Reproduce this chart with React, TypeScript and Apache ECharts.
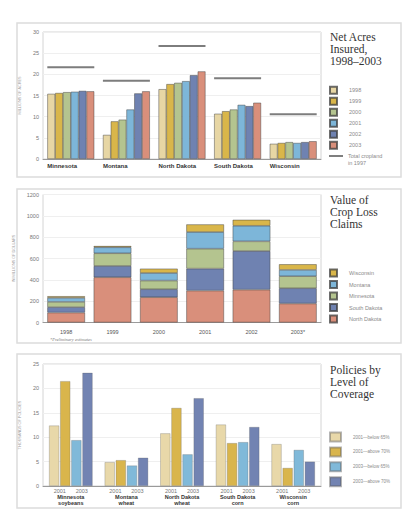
import React, { useEffect, useRef } from "react";
import * as echarts from "echarts";

// ---------- Panel 1: Net Acres Insured ----------
const acresStates = ["Minnesota", "Montana", "North Dakota", "South Dakota", "Wisconsin"];
const acresYears = ["1998", "1999", "2000", "2001", "2002", "2003"];
const acres1998 = [15.4, 5.7, 16.5, 10.7, 3.6];
const acres1999 = [15.6, 8.9, 17.7, 11.3, 3.8];
const acres2000 = [15.8, 9.3, 18.0, 11.7, 4.0];
const acres2001 = [15.9, 11.7, 18.4, 12.8, 3.8];
const acres2002 = [16.1, 15.5, 19.8, 12.5, 4.0];
const acres2003 = [16.0, 16.0, 20.7, 13.3, 4.2];
const cropland1997 = [21.7, 18.5, 26.7, 19.1, 10.6];
const acresTicks = [0, 30, 5];

// ---------- Panel 2: Value of Crop Loss Claims ----------
const claimYears = ["1998", "1999", "2000", "2001", "2002", "2003*"];
const claimStates = ["North Dakota", "South Dakota", "Minnesota", "Montana", "Wisconsin"];
const claimsND = [93, 424, 237, 299, 308, 178];
const claimsSD = [51, 106, 75, 206, 362, 143];
const claimsMN = [49, 119, 81, 187, 91, 113];
const claimsMT = [38, 56, 71, 156, 146, 59];
const claimsWI = [16, 12, 41, 72, 56, 53];
const claimTicks = [0, 1200, 200];

// ---------- Panel 3: Policies by Level of Coverage ----------
const policyStates = ["Minnesota", "Montana", "North Dakota", "South Dakota", "Wisconsin"];
const policyCrops = ["soybeans", "wheat", "wheat", "corn", "corn"];
const policyGroups = ["2001—below 65%", "2001—above 70%", "2003—below 65%", "2003—above 70%"];
const below65in2001 = [12.4, 4.9, 10.8, 12.6, 8.6];
const above70in2001 = [21.5, 5.3, 16.0, 8.8, 3.7];
const below65in2003 = [9.4, 4.2, 6.5, 9.0, 7.4];
const above70in2003 = [23.2, 5.8, 18.0, 12.1, 5.0];
const policyTicks = [0, 25, 5];

const C_TAN = "#e7d6a4";
const C_GOLD = "#d9b64a";
const C_SAGE = "#b4c48f";
const C_BLUE = "#7db6d9";
const C_SLATE = "#6f82b1";
const C_SALMON = "#d98f7b";

const SANS = "Liberation Sans";
const SERIF = "Liberation Serif";

export default function App() {
  const ref = useRef<HTMLDivElement>(null);

  useEffect(() => {
    if (!ref.current) return;
    const chart = echarts.init(ref.current, null, { renderer: "svg" });

    const grids = [
      { left: 43, top: 32, width: 278, height: 127 },
      { left: 43, top: 194.5, width: 278, height: 128 },
      { left: 43, top: 364, width: 278, height: 122 },
    ].map((g) => ({ ...g, show: true, borderColor: "#d4d4d4", borderWidth: 1, backgroundColor: "#fff" }));

    const yBase = (ticks: number[], name: string, gap: number, idx: number) => ({
      type: "value",
      gridIndex: idx,
      min: ticks[0],
      max: ticks[1],
      interval: ticks[2],
      name,
      nameLocation: "middle",
      nameGap: gap,
      nameRotate: 90,
      nameTextStyle: { fontSize: 3.8, color: "#a0a0a0", fontFamily: SANS },
      axisLine: { show: false },
      axisTick: { show: false },
      axisLabel: {
        fontSize: 5.5,
        color: "#777",
        margin: 4,
        fontFamily: SANS,
        formatter: (v: number) => String(v),
      },
      splitLine: { lineStyle: { color: "#efefef", width: 1 } },
    });

    const barBorder = { borderColor: "rgba(60,60,60,0.75)", borderWidth: 0.6 };
    const acresColors = [C_TAN, C_GOLD, C_SAGE, C_BLUE, C_SLATE, C_SALMON];
    const acresData = [acres1998, acres1999, acres2000, acres2001, acres2002, acres2003];

    const claimColors = [C_SALMON, C_SLATE, C_SAGE, C_BLUE, C_GOLD];
    const claimData = [claimsND, claimsSD, claimsMN, claimsMT, claimsWI];

    const policyColors = ["#e8d8a9", "#d9b54c", "#80b9d9", "#7283b2"];
    const policyData = [below65in2001, above70in2001, below65in2003, above70in2003];

    const series: any[] = [];
    acresYears.forEach((y, i) => {
      series.push({
        type: "bar",
        name: y,
        xAxisIndex: 0,
        yAxisIndex: 0,
        data: acresData[i],
        barGap: "0%",
        barCategoryGap: "15.5%",
        itemStyle: { color: acresColors[i], ...barBorder },
      });
    });
    series.push({
      type: "custom",
      name: "Total cropland in 1997",
      xAxisIndex: 0,
      yAxisIndex: 0,
      z: 5,
      data: cropland1997.map((v, i) => [i, v]),
      encode: { x: 0, y: 1 },
      renderItem: (params: any, api: any) => {
        const p = api.coord([api.value(0), api.value(1)]);
        const w = api.size([1, 0])[0] * 0.845;
        return {
          type: "line",
          shape: { x1: p[0] - w / 2, y1: p[1], x2: p[0] + w / 2, y2: p[1] },
          style: { stroke: "#7d7d7d", lineWidth: 2 },
        };
      },
    });
    claimStates.forEach((s, i) => {
      series.push({
        type: "bar",
        name: s,
        stack: "claims",
        xAxisIndex: 1,
        yAxisIndex: 1,
        data: claimData[i],
        barCategoryGap: "18.6%",
        itemStyle: { color: claimColors[i], ...barBorder },
      });
    });
    policyGroups.forEach((g, i) => {
      series.push({
        type: "bar",
        name: g,
        xAxisIndex: 2,
        yAxisIndex: 2,
        data: policyData[i],
        barGap: "9%",
        barCategoryGap: "21.6%",
        itemStyle: { color: policyColors[i], borderColor: "rgba(90,90,90,0.45)", borderWidth: 0.6 },
      });
    });

    const legendBase = {
      orient: "vertical",
      left: 329,
      padding: 0,
      icon: "rect",
      selectedMode: false,
      textStyle: { fontSize: 5.5, lineHeight: 7, color: "#8a8a8a", fontFamily: SANS, padding: [0, 0, 0, 7] },
    };

    const titleLines = (x: number, y: number, lines: string[]) =>
      lines.map((t, i) => ({
        type: "text",
        x,
        y: y + i * 12,
        style: { text: t, font: `11.5px "${SERIF}"`, fill: "#333", textVerticalAlign: "top" },
      }));

    const panelBox = (y: number) => ({
      type: "rect",
      shape: { x: 17, y, width: 384, height: 154 },
      style: { fill: "none", stroke: "#dcdcdc", lineWidth: 1.5 },
      z: -10,
    });

    const option: any = {
      animation: false,
      backgroundColor: "#fff",
      grid: grids,
      xAxis: [
        {
          type: "category",
          gridIndex: 0,
          data: acresStates,
          axisLine: { lineStyle: { color: "#9a9a9a", width: 1 } },
          axisTick: { show: false },
          axisLabel: {
            interval: 0,
            margin: 4,
            formatter: (v: string) => `{a|${v}}`,
            rich: {
              a: { width: 47, align: "left", fontSize: 6, fontWeight: "bold", color: "#333", fontFamily: SANS },
            },
          },
        },
        {
          type: "category",
          gridIndex: 1,
          data: claimYears,
          axisLine: { lineStyle: { color: "#9a9a9a", width: 1 } },
          axisTick: { show: false },
          axisLabel: { interval: 0, margin: 6, fontSize: 5.5, color: "#555", fontFamily: SANS },
        },
        {
          type: "category",
          gridIndex: 2,
          data: policyStates,
          axisLine: { lineStyle: { color: "#9a9a9a", width: 1 } },
          axisTick: { show: false },
          axisLabel: {
            interval: 0,
            margin: 2,
            formatter: (v: string, i: number) =>
              `{y|2001}{y|2003}\n{b|${v}}\n{b|${policyCrops[i]}}`,
            rich: {
              y: { width: 22, align: "center", fontSize: 5.5, color: "#777", lineHeight: 6, fontFamily: SANS },
              b: { fontSize: 5.5, fontWeight: "bold", color: "#333", lineHeight: 6, fontFamily: SANS },
            },
          },
        },
      ],
      yAxis: [
        yBase(acresTicks, "MILLIONS OF ACRES", 18, 0),
        yBase(claimTicks, "IN MILLIONS OF DOLLARS", 20, 1),
        yBase(policyTicks, "THOUSANDS OF POLICIES", 18, 2),
      ],
      legend: [
        { ...legendBase, top: 85.8, itemWidth: 7, itemHeight: 7, itemGap: 2, data: acresYears },
        {
          ...legendBase,
          top: 268.5,
          itemWidth: 7,
          itemHeight: 7,
          itemGap: 2.5,
          data: ["Wisconsin", "Montana", "Minnesota", "South Dakota", "North Dakota"],
        },
        {
          ...legendBase,
          top: 431.5,
          itemWidth: 11,
          itemHeight: 9,
          itemGap: 3.9,
          textStyle: { fontSize: 4.5, lineHeight: 6, color: "#8a8a8a", fontFamily: SANS, padding: [0, 0, 0, 7] },
          data: policyGroups,
        },
      ],
      graphic: [
        panelBox(23),
        panelBox(189),
        panelBox(354),
        ...titleLines(330, 30.5, ["Net Acres", "Insured,", "1998–2003"]),
        ...titleLines(330, 194, ["Value of", "Crop Loss", "Claims"]),
        ...titleLines(330, 364, ["Policies by", "Level of", "Coverage"]),
        {
          type: "line",
          shape: { x1: 329, y1: 156, x2: 343, y2: 156 },
          style: { stroke: "#555", lineWidth: 1.5 },
        },
        {
          type: "text",
          x: 348,
          y: 152.5,
          style: {
            text: "Total cropland\nin 1997",
            font: `5.5px "${SANS}"`,
            fill: "#8a8a8a",
            lineHeight: 7,
            textVerticalAlign: "top",
          },
        },
        {
          type: "text",
          x: 50,
          y: 337,
          style: {
            text: "*Preliminary estimates",
            font: `italic 4.5px "${SERIF}"`,
            fill: "#777",
            textVerticalAlign: "top",
          },
        },
      ],
      series,
    };

    chart.setOption(option);
    return () => chart.dispose();
  }, []);

  return (
    <div
      ref={ref}
      style={{ position: "absolute", left: 0, top: 0, width: 415, height: 525, background: "#fff" }}
    />
  );
}
